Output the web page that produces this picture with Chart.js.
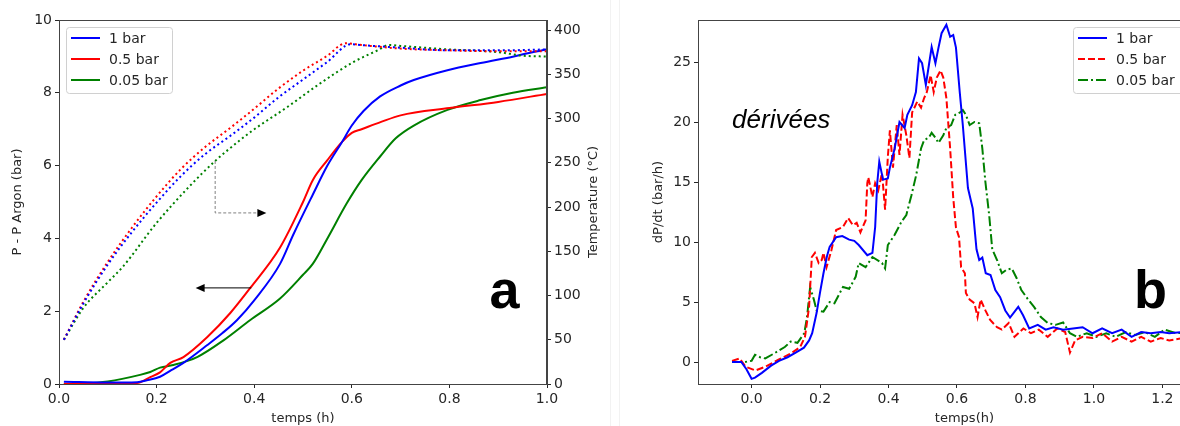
<!DOCTYPE html>
<html>
<head>
<meta charset="utf-8">
<script src="https://cdn.jsdelivr.net/npm/chart.js@4.4.0/dist/chart.umd.min.js"></script>
<style>
html, body { margin: 0; padding: 0; background: #fff; overflow: hidden; width: 1180px; height: 426px; }
#ca { position: absolute; left: 0; top: 0; }
#cb { position: absolute; left: 600px; top: 0; }
.sep { position: absolute; top: 0; width: 1px; height: 426px; background: #f2f2f2; }
</style>
</head>
<body>
<div class="sep" style="left:610px"></div>
<div class="sep" style="left:619px"></div>
<canvas id="ca" width="600" height="426"></canvas>
<canvas id="cb" width="645" height="426"></canvas>
<script>
var seriesNames = ['1 bar', '0.5 bar', '0.05 bar']
var colors = ['#0000ff', '#ff0000', '#008000']

// panel a - pression P - P Argon (bar)
var tP1 = [0.01, 0.1, 0.16, 0.18, 0.207, 0.23, 0.255, 0.304, 0.335, 0.365, 0.4, 0.453, 0.48, 0.52, 0.55, 0.58, 0.6, 0.624, 0.658, 0.7, 0.727, 0.796, 0.864, 0.932, 1.0]
var p1 = [0.06, 0.04, 0.05, 0.1, 0.2, 0.38, 0.58, 1.07, 1.4, 1.76, 2.3, 3.3, 4.1, 5.2, 6.0, 6.65, 7.1, 7.5, 7.9, 8.2, 8.35, 8.62, 8.82, 9.0, 9.2]
var tP05 = [0.01, 0.1, 0.16, 0.187, 0.207, 0.228, 0.255, 0.304, 0.351, 0.392, 0.453, 0.5, 0.52, 0.55, 0.58, 0.6, 0.62, 0.66, 0.7, 0.8, 0.9, 1.0]
var p05 = [0.0, 0.02, 0.03, 0.19, 0.32, 0.58, 0.74, 1.29, 1.95, 2.64, 3.75, 5.0, 5.6, 6.15, 6.65, 6.9, 7.0, 7.2, 7.38, 7.58, 7.75, 7.97]
var tP005 = [0.01, 0.043, 0.1, 0.166, 0.187, 0.207, 0.234, 0.283, 0.337, 0.392, 0.453, 0.5, 0.52, 0.55, 0.59, 0.62, 0.658, 0.69, 0.727, 0.796, 0.864, 0.93, 1.0]
var p005 = [0.0, 0.01, 0.07, 0.25, 0.33, 0.45, 0.52, 0.74, 1.2, 1.76, 2.35, 3.0, 3.3, 4.0, 4.97, 5.6, 6.25, 6.75, 7.1, 7.53, 7.8, 8.0, 8.15]

// panel a - temperature (°C), axe de droite
var tT1 = [0.01, 0.05, 0.1, 0.15, 0.2, 0.25, 0.3, 0.35, 0.4, 0.45, 0.5, 0.55, 0.598, 0.62, 0.7, 0.8, 0.9, 1.0]
var temp1 = [50, 91, 135, 172, 205, 235, 260, 280, 301, 324, 344, 364, 384, 383, 380, 377, 377, 378]
var tT05 = [0.01, 0.05, 0.1, 0.15, 0.2, 0.25, 0.3, 0.35, 0.4, 0.45, 0.5, 0.55, 0.587, 0.62, 0.7, 0.8, 0.9, 1.0]
var temp05 = [50, 93, 138, 177, 212, 243, 268, 289, 311, 334, 354, 371, 385, 383, 379, 377, 376, 376]
var tT005 = [0.01, 0.05, 0.1, 0.13, 0.2, 0.265, 0.32, 0.372, 0.398, 0.468, 0.536, 0.604, 0.653, 0.676, 0.7, 0.8, 0.9, 0.95, 1.0]
var temp005 = [50, 86, 115, 132, 182, 222, 252, 276, 287, 313, 340, 364, 377, 383, 382, 378, 375, 371, 370]

// panel b - derivees dP/dt (bar/h)
var tD1 = [-0.057, -0.03, -0.015, 0.0, 0.01, 0.03, 0.057, 0.08, 0.105, 0.13, 0.153, 0.168, 0.177, 0.19, 0.2, 0.21, 0.22, 0.228, 0.247, 0.265, 0.285, 0.3, 0.313, 0.338, 0.353, 0.361, 0.367, 0.373, 0.384, 0.398, 0.404, 0.418, 0.432, 0.447, 0.455, 0.469, 0.48, 0.489, 0.498, 0.509, 0.518, 0.526, 0.537, 0.546, 0.555, 0.569, 0.58, 0.589, 0.597, 0.608, 0.617, 0.632, 0.646, 0.657, 0.665, 0.674, 0.684, 0.698, 0.712, 0.726, 0.741, 0.755, 0.779, 0.793, 0.811, 0.836, 0.859, 0.882, 0.91, 0.939, 0.967, 0.996, 1.024, 1.053, 1.081, 1.11, 1.138, 1.166, 1.195, 1.22, 1.26, 1.3]
var d1 = [0, 0, -0.6, -1.4, -1.3, -0.9, -0.3, 0.1, 0.4, 0.8, 1.2, 1.8, 2.4, 4.1, 5.8, 7.4, 8.8, 9.6, 10.4, 10.5, 10.2, 10.1, 9.75, 8.9, 9.1, 11.25, 14.9, 16.7, 15.2, 15.3, 16.2, 17.8, 20, 19.5, 20.6, 21.4, 22.5, 25.3, 24.9, 23.1, 24.75, 26.25, 24.9, 26.2, 27.4, 28.1, 27.1, 27.25, 26.2, 22.5, 19.75, 14.5, 12.8, 9.4, 8.5, 8.7, 7.4, 7.25, 6.0, 5.4, 4.3, 3.7, 4.6, 3.9, 2.8, 3.1, 2.7, 2.9, 2.7, 2.8, 2.9, 2.4, 2.8, 2.4, 2.7, 2.1, 2.5, 2.4, 2.5, 2.4, 2.5, 2.3]
var tD05 = [-0.057, -0.035, -0.017, 0.011, 0.04, 0.077, 0.114, 0.142, 0.156, 0.168, 0.176, 0.185, 0.196, 0.205, 0.21, 0.219, 0.233, 0.247, 0.267, 0.282, 0.296, 0.307, 0.318, 0.333, 0.338, 0.341, 0.353, 0.361, 0.37, 0.381, 0.39, 0.398, 0.404, 0.413, 0.424, 0.432, 0.441, 0.452, 0.461, 0.469, 0.484, 0.495, 0.504, 0.512, 0.523, 0.532, 0.541, 0.552, 0.56, 0.569, 0.58, 0.589, 0.597, 0.606, 0.612, 0.623, 0.626, 0.637, 0.651, 0.66, 0.669, 0.683, 0.697, 0.717, 0.731, 0.751, 0.768, 0.794, 0.816, 0.839, 0.865, 0.893, 0.916, 0.93, 0.945, 0.967, 0.996, 1.024, 1.053, 1.081, 1.11, 1.138, 1.166, 1.195, 1.22, 1.26, 1.3]
var d05 = [0.1, 0.3, -0.4, -0.7, -0.4, 0.17, 0.7, 1.25, 2.1, 4.6, 8.75, 9.1, 8.25, 8.5, 9.1, 7.9, 9.3, 11, 11.25, 12, 11.4, 11.6, 10.8, 11.8, 14.9, 15.4, 13.75, 14.9, 14.3, 15.75, 12.7, 17.1, 19.3, 16.2, 19.75, 17.25, 20.6, 18.9, 17, 20.8, 21.7, 21.2, 22, 22.5, 23.9, 22.5, 23.7, 24.3, 23.7, 22, 17.8, 13.7, 11.2, 10.4, 7.9, 7.4, 5.75, 5.2, 4.9, 3.75, 5.2, 4.3, 3.5, 2.9, 2.7, 3.25, 2.1, 2.8, 2.4, 2.7, 2.1, 2.8, 2.5, 0.8, 1.8, 2.1, 2.0, 2.4, 1.7, 2.1, 1.7, 2.1, 1.7, 2.0, 1.8, 2.0, 1.7]
var tD005 = [-0.057, -0.02, 0.0, 0.01, 0.025, 0.04, 0.068, 0.097, 0.114, 0.134, 0.154, 0.162, 0.171, 0.182, 0.19, 0.21, 0.228, 0.242, 0.267, 0.285, 0.304, 0.313, 0.333, 0.353, 0.381, 0.39, 0.398, 0.418, 0.438, 0.452, 0.467, 0.481, 0.495, 0.504, 0.518, 0.526, 0.537, 0.546, 0.56, 0.569, 0.583, 0.595, 0.609, 0.617, 0.626, 0.637, 0.651, 0.665, 0.674, 0.683, 0.694, 0.703, 0.717, 0.731, 0.745, 0.76, 0.774, 0.788, 0.808, 0.825, 0.845, 0.865, 0.888, 0.91, 0.93, 0.95, 0.979, 1.007, 1.036, 1.064, 1.093, 1.121, 1.149, 1.178, 1.206, 1.24, 1.3]
var d005 = [0, 0, 0.1, 0.6, 0.4, 0.3, 0.75, 1.25, 1.7, 1.6, 2.4, 3.75, 6.25, 5.2, 4.3, 4.2, 5.0, 4.9, 6.25, 6.1, 7.1, 8.25, 7.9, 8.75, 8.25, 7.8, 9.75, 10.6, 11.7, 12.25, 13.9, 15.6, 17.8, 18.5, 18.7, 19.1, 18.7, 18.25, 18.9, 19.5, 19.75, 20.6, 20.8, 21.0, 20.6, 19.75, 20, 19.9, 17.8, 15, 12.25, 9.4, 8.5, 7.4, 7.7, 7.8, 7.0, 6.0, 5.2, 4.6, 3.75, 3.25, 3.1, 3.3, 2.4, 2.1, 2.4, 2.1, 2.4, 2.1, 2.5, 2.25, 2.5, 2.1, 2.7, 2.4, 2.5]

// ticks
var xTicksA = [0.0, 0.2, 0.4, 0.6, 0.8, 1.0]
var yTicksA = [0, 2, 4, 6, 8, 10]
var y2TicksA = [0, 50, 100, 150, 200, 250, 300, 350, 400]
var xTicksB = [0.0, 0.2, 0.4, 0.6, 0.8, 1.0, 1.2, 1.4]
var yTicksB = [0, 5, 10, 15, 20, 25]

var FONT = 'DejaVu Sans'
var INK = '#262626'

function pts(xs, ys) {
    var out = []
    for (var i = 0; i < xs.length; i++) {
        out.push({x: xs[i], y: ys[i]})
    }
    return out
}

function fixedTicks(list) {
    return function(axis) {
        axis.ticks = list.map(function(v) { return {value: v} })
    }
}

function axisStyle(extra) {
    var s = {
        grid: {display: true, drawOnChartArea: false, drawTicks: true, tickLength: 4, tickColor: INK, tickWidth: 1},
        border: {display: true, color: '#444', width: 1},
        ticks: {color: INK, font: {family: FONT, size: 14}, padding: 3, maxRotation: 0, autoSkip: false}
    }
    for (var k in extra) s[k] = extra[k]
    return s
}

// cadre complet autour de la zone de tracé
var framePlugin = {
    id: 'frame',
    afterDraw: function(chart) {
        var a = chart.chartArea, ctx = chart.ctx
        ctx.save()
        ctx.strokeStyle = '#444'
        ctx.lineWidth = 1
        ctx.strokeRect(a.left + 0.5, a.top + 0.5, a.right - a.left - 1, a.bottom - a.top)
        ctx.restore()
    }
}

function drawLegend(ctx, box, dashes) {
    ctx.save()
    ctx.fillStyle = 'rgba(255,255,255,0.85)'
    ctx.strokeStyle = '#d0d0d0'
    ctx.lineWidth = 1
    ctx.beginPath()
    ctx.roundRect(box.x + 0.5, box.y + 0.5, box.w, box.h, 3)
    ctx.fill()
    ctx.stroke()
    ctx.font = '14px ' + FONT
    ctx.textBaseline = 'middle'
    for (var i = 0; i < seriesNames.length; i++) {
        var yy = box.y + 11 + i * 21
        ctx.strokeStyle = colors[i]
        ctx.lineWidth = 2
        ctx.setLineDash(dashes[i])
        ctx.beginPath()
        ctx.moveTo(box.x + 5, yy)
        ctx.lineTo(box.x + 34, yy)
        ctx.stroke()
        ctx.setLineDash([])
        ctx.fillStyle = INK
        ctx.fillText(seriesNames[i], box.x + 43, yy + 1)
    }
    ctx.restore()
}

function arrowHead(ctx, x, y, dir) {
    ctx.beginPath()
    ctx.moveTo(x, y)
    ctx.lineTo(x - dir * 9, y - 4)
    ctx.lineTo(x - dir * 9, y + 4)
    ctx.closePath()
    ctx.fill()
}

var annotA = {
    id: 'annotA',
    afterDraw: function(chart) {
        var ctx = chart.ctx, sx = chart.scales.x, sy = chart.scales.y, sT = chart.scales.y2
        ctx.save()
        // fleche vers l'axe de gauche
        var yA = sy.getPixelForValue(2.64)
        var x0 = sx.getPixelForValue(0.394), x1 = sx.getPixelForValue(0.28)
        ctx.strokeStyle = '#000'
        ctx.fillStyle = '#000'
        ctx.lineWidth = 1
        ctx.beginPath()
        ctx.moveTo(x0, yA)
        ctx.lineTo(x1 + 6, yA)
        ctx.stroke()
        arrowHead(ctx, x1, yA, -1)
        // fleche pointillee vers l'axe de droite
        var xs = sx.getPixelForValue(0.32)
        var ys = sT.getPixelForValue(252)
        var yb = sy.getPixelForValue(4.7)
        var xe = sx.getPixelForValue(0.425)
        ctx.strokeStyle = '#808080'
        ctx.setLineDash([3, 2])
        ctx.beginPath()
        ctx.moveTo(xs, ys)
        ctx.lineTo(xs, yb)
        ctx.lineTo(xe - 6, yb)
        ctx.stroke()
        ctx.setLineDash([])
        arrowHead(ctx, xe, yb, 1)
        // lettre
        ctx.fillStyle = '#000'
        ctx.font = 'bold 54px "Liberation Sans"'
        ctx.textBaseline = 'alphabetic'
        ctx.fillText('a', sx.getPixelForValue(0.882), 308)
        // titre de l'axe de droite, lu de bas en haut comme celui de gauche
        ctx.fillStyle = INK
        ctx.font = '13px ' + FONT
        ctx.textAlign = 'center'
        ctx.textBaseline = 'middle'
        ctx.translate(sT.right - 6, (chart.chartArea.top + chart.chartArea.bottom) / 2)
        ctx.rotate(-Math.PI / 2)
        ctx.fillText('Temperature (°C)', 0, 0)
        ctx.restore()
        drawLegend(ctx, {x: 66, y: 27, w: 106, h: 66}, [[], [], []])
    }
}

var annotB = {
    id: 'annotB',
    afterDraw: function(chart) {
        var ctx = chart.ctx, sx = chart.scales.x
        ctx.save()
        ctx.fillStyle = '#000'
        ctx.font = 'italic 26px "Liberation Sans"'
        ctx.textBaseline = 'alphabetic'
        ctx.fillText('dérivées', sx.getPixelForValue(-0.057), 128)
        ctx.font = 'bold 54px "Liberation Sans"'
        ctx.fillText('b', sx.getPixelForValue(1.117), 308)
        ctx.restore()
        drawLegend(ctx, {x: 473, y: 27, w: 110, h: 66}, [[], [7, 3], [10, 3, 2, 3]])
    }
}

function lineSet(label, data, color, dash, axis, tension) {
    return {
        label: label,
        data: data,
        borderColor: color,
        backgroundColor: color,
        borderWidth: 2,
        borderDash: dash,
        borderCapStyle: 'butt',
        pointRadius: 0,
        fill: false,
        tension: tension,
        cubicInterpolationMode: tension > 0 ? 'monotone' : 'default',
        yAxisID: axis
    }
}

var ctxA = document.querySelector('#ca').getContext('2d')
var chartA = new Chart(ctxA, {
    type: 'line',
    data: {
        datasets: [
            lineSet('T ' + seriesNames[0], pts(tT1, temp1), colors[0], [2, 3], 'y2', 0.4),
            lineSet('T ' + seriesNames[1], pts(tT05, temp05), colors[1], [2, 3], 'y2', 0.4),
            lineSet('T ' + seriesNames[2], pts(tT005, temp005), colors[2], [2, 3], 'y2', 0.4),
            lineSet(seriesNames[0], pts(tP1, p1), colors[0], [], 'y', 0.4),
            lineSet(seriesNames[1], pts(tP05, p05), colors[1], [], 'y', 0.4),
            lineSet(seriesNames[2], pts(tP005, p005), colors[2], [], 'y', 0.4)
        ]
    },
    options: {
        responsive: false,
        animation: false,
        devicePixelRatio: 1,
        layout: {padding: {top: 20, right: 0, left: 0, bottom: 0}},
        plugins: {legend: {display: false}, tooltip: {enabled: false}},
        scales: {
            x: axisStyle({
                type: 'linear', min: 0, max: 1,
                afterBuildTicks: fixedTicks(xTicksA),
                afterFit: function(s) { s.height = 42 },
                ticks: {color: INK, font: {family: FONT, size: 14}, padding: 3, maxRotation: 0, autoSkip: false,
                    callback: function(v) { return v.toFixed(1) }},
                title: {display: true, text: 'temps (h)', color: INK, font: {family: FONT, size: 13, lineHeight: 1}, padding: {top: 0, bottom: 1}}
            }),
            y: axisStyle({
                type: 'linear', position: 'left', min: 0, max: 10,
                afterBuildTicks: fixedTicks(yTicksA),
                afterFit: function(s) { s.width = 59 },
                title: {display: true, text: 'P - P Argon (bar)', color: INK, font: {family: FONT, size: 13, lineHeight: 1}, padding: {top: 11, bottom: 0}}
            }),
            y2: axisStyle({
                type: 'linear', position: 'right', min: 0, max: 411.3,
                afterBuildTicks: fixedTicks(y2TicksA),
                afterFit: function(s) { s.width = 53 }
            })
        }
    },
    plugins: [framePlugin, annotA]
})

var ctxB = document.querySelector('#cb').getContext('2d')
var chartB = new Chart(ctxB, {
    type: 'line',
    data: {
        datasets: [
            lineSet(seriesNames[0], pts(tD1, d1), colors[0], [], 'y', 0),
            lineSet(seriesNames[1], pts(tD05, d05), colors[1], [7, 3], 'y', 0),
            lineSet(seriesNames[2], pts(tD005, d005), colors[2], [10, 3, 2, 3], 'y', 0)
        ]
    },
    options: {
        responsive: false,
        animation: false,
        devicePixelRatio: 1,
        layout: {padding: {top: 20, right: 0, left: 0, bottom: 0}},
        plugins: {legend: {display: false}, tooltip: {enabled: false}},
        scales: {
            x: axisStyle({
                type: 'linear', min: -0.1565, max: 1.4,
                afterBuildTicks: fixedTicks(xTicksB),
                afterFit: function(s) { s.height = 42 },
                ticks: {color: INK, font: {family: FONT, size: 14}, padding: 3, maxRotation: 0, autoSkip: false,
                    callback: function(v) { return v.toFixed(1) }},
                title: {display: true, text: 'temps(h)', color: INK, font: {family: FONT, size: 13, lineHeight: 1}, padding: {top: 0, bottom: 1}}
            }),
            y: axisStyle({
                type: 'linear', position: 'left', min: -1.83, max: 28.5,
                afterBuildTicks: fixedTicks(yTicksB),
                afterFit: function(s) { s.width = 98 },
                title: {display: true, text: 'dP/dt (bar/h)', color: INK, font: {family: FONT, size: 13, lineHeight: 1}, padding: {top: 52, bottom: 0}}
            })
        }
    },
    plugins: [framePlugin, annotB]
})
</script>
</body>
</html>
